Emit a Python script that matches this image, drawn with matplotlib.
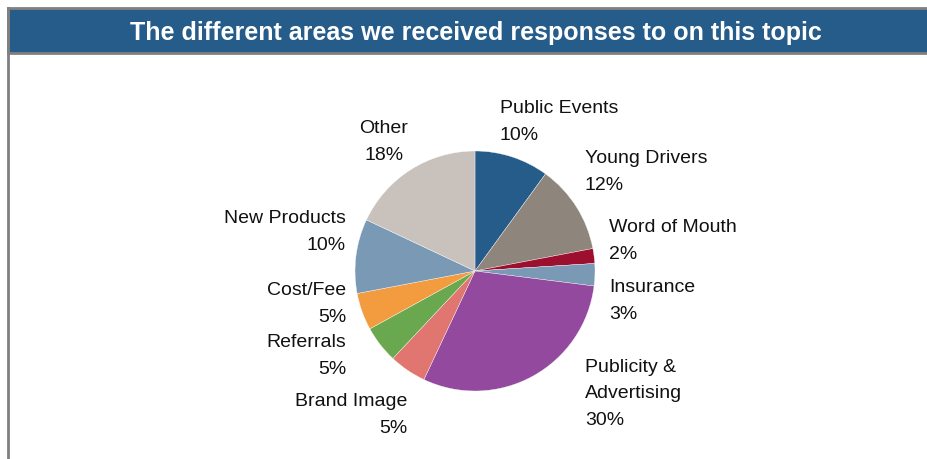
import matplotlib.pyplot as plt
from matplotlib.patches import Rectangle

# response share per area, clockwise from 12 o'clock
areas = ["Public Events", "Young Drivers", "Word of Mouth", "Insurance",
         "Publicity &\nAdvertising", "Brand Image", "Referrals", "Cost/Fee",
         "New Products", "Other"]
shares = [10, 12, 2, 3, 30, 5, 5, 5, 10, 18]
colors = ["#265C8A", "#8E857C", "#9C0F2F", "#7A99B5", "#92499E",
          "#E0766F", "#6AA84F", "#F39C3F", "#7A99B5", "#C9C1BB"]

# label anchors in pixels (x, y from top) and alignment
label_pos = [(500, 122, "left"), (585, 172, "left"), (609, 241, "left"),
             (609, 301, "left"), (585, 394, "left"), (407, 415, "right"),
             (346, 356, "right"), (346, 304, "right"), (346, 232, "right"),
             (384, 142, "center")]

W, H = 928, 460


def main():
    fig = plt.figure(figsize=(W / 100, H / 100), dpi=100)
    ax = fig.add_axes([0, 0, 1, 1])

    ax.pie(shares, colors=colors, startangle=90, counterclock=False,
           center=(475, H - 272), radius=120,
           wedgeprops=dict(edgecolor="white", linewidth=0.25))

    ax.set_xlim(0, W)
    ax.set_ylim(0, H)
    ax.set_aspect("auto")
    ax.axis("off")

    # header bar and frame
    ax.add_patch(Rectangle((8.5, H - 53.5), W, 45, facecolor="#265C8A",
                           edgecolor="#808080", linewidth=2))
    ax.plot([8.5, 8.5], [0, H - 8.5], color="#808080", linewidth=2)
    ax.text(476, H - 33, "The different areas we received responses to on this topic",
            color="white", fontsize=18, fontweight="bold", family="Liberation Sans",
            ha="center", va="center")

    for name, val, (x, y, ha) in zip(areas, shares, label_pos):
        ax.text(x, H - y, f"{name}\n{val}%", ha=ha, va="center", multialignment=ha,
                fontsize=14, family="Liberation Sans", linespacing=1.7,
                color="#111111")

    fig.savefig("out.png", dpi=100)


if __name__ == "__main__":
    main()
